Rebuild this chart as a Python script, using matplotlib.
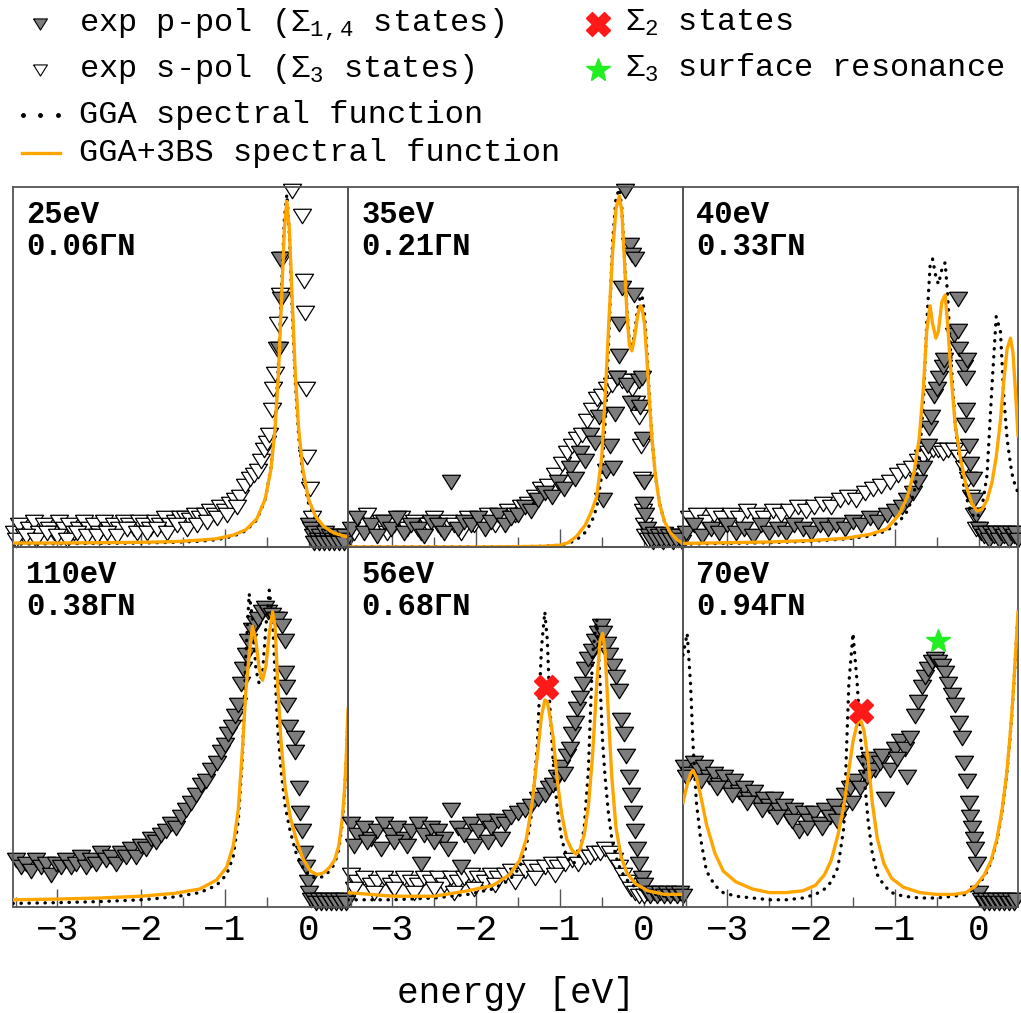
import matplotlib
matplotlib.use("Agg")
import matplotlib.pyplot as plt

plt.rcParams["font.family"] = ["Liberation Mono", "DejaVu Sans"]
plt.rcParams["mathtext.fontset"] = "custom"
plt.rcParams["mathtext.rm"] = "Liberation Mono"
plt.rcParams["mathtext.it"] = "Liberation Mono"
plt.rcParams["mathtext.bf"] = "Liberation Mono:bold"

# ---------------- data ----------------
photon = ["25eV", "35eV", "40eV", "110eV", "56eV", "70eV"]
kpos = ["0.06", "0.21", "0.33", "0.38", "0.68", "0.94"]

# spectral functions: shared energy grid per panel, GGA and GGA+3BS values
c1_x = [-3.53, -3.0, -2.5, -2.0, -1.6, -1.3, -1.1, -0.9, -0.75, -0.62, -0.52, -0.45, -0.40, -0.36,
        -0.32, -0.29, -0.26, -0.23, -0.20, -0.16, -0.12, -0.07, 0.0, 0.08, 0.18, 0.30, 0.47]
bs1_y = [0.011, 0.011, 0.012, 0.013, 0.015, 0.019, 0.023, 0.033, 0.048, 0.078, 0.132, 0.216, 0.331, 0.485,
         0.709, 0.882, 0.96, 0.882, 0.709, 0.485, 0.331, 0.216, 0.132, 0.086, 0.057, 0.039, 0.027]
gga1_y = [0.008, 0.009, 0.010, 0.011, 0.013, 0.016, 0.020, 0.030, 0.045, 0.075, 0.13, 0.22, 0.34, 0.51,
          0.74, 0.91, 0.98, 0.87, 0.68, 0.46, 0.31, 0.20, 0.12, 0.08, 0.05, 0.035, 0.025]

c2_x = [-3.53, -3.0, -2.5, -2.0, -1.5, -1.2, -1.0, -0.9, -0.8, -0.7, -0.62, -0.56, -0.50, -0.45, -0.41,
        -0.37, -0.33, -0.29, -0.26, -0.23, -0.20, -0.17, -0.14, -0.11, -0.07, -0.04, -0.02, 0.01, 0.04,
        0.07, 0.10, 0.14, 0.19, 0.25, 0.32, 0.40, 0.47]
bs2_y = [0.0, 0.0, 0.0, 0.0, 0.001, 0.002, 0.005, 0.012, 0.03, 0.06, 0.10, 0.14, 0.25, 0.46, 0.65,
         0.82, 0.94, 0.975, 0.93, 0.80, 0.65, 0.56, 0.545, 0.58, 0.645, 0.67, 0.665, 0.62, 0.52,
         0.40, 0.30, 0.20, 0.12, 0.07, 0.04, 0.02, 0.01]
gga2_y = [0.0, 0.0, 0.0, 0.0, 0.001, 0.002, 0.005, 0.01, 0.02, 0.04, 0.07, 0.11, 0.20, 0.38, 0.62,
          0.85, 0.97, 0.995, 0.94, 0.81, 0.66, 0.57, 0.55, 0.59, 0.665, 0.695, 0.70, 0.65, 0.54,
          0.41, 0.30, 0.20, 0.12, 0.07, 0.04, 0.02, 0.01]

c3_x = [-3.53, -3.0, -2.5, -2.0, -1.6, -1.3, -1.1, -0.95, -0.85, -0.77, -0.71, -0.66, -0.62, -0.58,
        -0.55, -0.51, -0.48, -0.44, -0.40, -0.37, -0.33, -0.28, -0.22, -0.15, -0.08, -0.02, 0.04, 0.10,
        0.16, 0.21, 0.26, 0.30, 0.34, 0.38, 0.41, 0.44, 0.47]
bs3_y = [0.01, 0.012, 0.014, 0.018, 0.024, 0.035, 0.05, 0.09, 0.14, 0.21, 0.30, 0.44, 0.60, 0.67,
         0.62, 0.58, 0.60, 0.68, 0.70, 0.62, 0.48, 0.34, 0.25, 0.17, 0.12, 0.10, 0.105, 0.13,
         0.18, 0.25, 0.35, 0.46, 0.55, 0.58, 0.54, 0.43, 0.31]
gga3_y = [0.008, 0.01, 0.012, 0.016, 0.022, 0.03, 0.045, 0.07, 0.10, 0.15, 0.24, 0.40, 0.62, 0.78,
          0.80, 0.75, 0.73, 0.77, 0.79, 0.70, 0.52, 0.34, 0.22, 0.14, 0.09, 0.08, 0.11, 0.20,
          0.45, 0.64, 0.60, 0.42, 0.30, 0.23, 0.19, 0.17, 0.15]

c4_x = [-3.53, -3.0, -2.5, -2.0, -1.6, -1.3, -1.1, -0.98, -0.90, -0.84, -0.79, -0.75, -0.71, -0.67,
        -0.63, -0.59, -0.55, -0.51, -0.47, -0.43, -0.40, -0.37, -0.33, -0.28, -0.22, -0.15, -0.07, 0.02,
        0.10, 0.18, 0.25, 0.31, 0.36, 0.40, 0.43, 0.45, 0.47]
bs4_y = [0.02, 0.022, 0.025, 0.03, 0.038, 0.05, 0.075, 0.11, 0.17, 0.27, 0.44, 0.60, 0.70, 0.78,
         0.74, 0.66, 0.63, 0.67, 0.76, 0.82, 0.78, 0.62, 0.46, 0.33, 0.25, 0.19, 0.135, 0.10,
         0.09, 0.095, 0.11, 0.13, 0.17, 0.24, 0.33, 0.42, 0.55]
gga4_y = [0.01, 0.012, 0.015, 0.02, 0.028, 0.04, 0.06, 0.09, 0.14, 0.24, 0.42, 0.70, 0.87, 0.80,
          0.66, 0.62, 0.65, 0.78, 0.88, 0.80, 0.64, 0.50, 0.38, 0.28, 0.21, 0.15, 0.11, 0.085,
          0.08, 0.085, 0.10, 0.12, 0.16, 0.23, 0.32, 0.41, 0.53]

c5_x = [-3.53, -3.0, -2.5, -2.1, -1.8, -1.6, -1.48, -1.40, -1.33, -1.27, -1.22, -1.18, -1.15, -1.12,
        -1.08, -1.03, -0.98, -0.92, -0.86, -0.81, -0.76, -0.71, -0.66, -0.61, -0.56, -0.52, -0.49,
        -0.46, -0.42, -0.38, -0.33, -0.27, -0.20, -0.10, 0.05, 0.25, 0.47]
bs5_y = [0.04, 0.03, 0.03, 0.045, 0.06, 0.09, 0.13, 0.19, 0.29, 0.42, 0.53, 0.575, 0.57, 0.53,
         0.47, 0.35, 0.26, 0.19, 0.16, 0.147, 0.16, 0.20, 0.28, 0.42, 0.62, 0.74, 0.76,
         0.71, 0.53, 0.36, 0.22, 0.14, 0.095, 0.065, 0.045, 0.035, 0.035]
gga5_y = [0.02, 0.02, 0.025, 0.035, 0.05, 0.075, 0.11, 0.17, 0.27, 0.45, 0.72, 0.82, 0.74, 0.56,
          0.40, 0.27, 0.19, 0.14, 0.12, 0.125, 0.15, 0.22, 0.38, 0.70, 0.80, 0.62, 0.46,
          0.36, 0.26, 0.19, 0.14, 0.10, 0.075, 0.055, 0.04, 0.03, 0.03]

c6_x = [-3.53, -3.48, -3.44, -3.41, -3.37, -3.32, -3.25, -3.15, -3.05, -2.9, -2.7, -2.5, -2.3, -2.1,
        -1.95, -1.84, -1.76, -1.68, -1.61, -1.55, -1.50, -1.45, -1.41, -1.37, -1.32, -1.27, -1.21,
        -1.13, -1.04, -0.9, -0.7, -0.5, -0.3, -0.15, -0.03, 0.07, 0.15, 0.22, 0.28, 0.33, 0.37,
        0.40, 0.43, 0.45, 0.47]
bs6_y = [0.29, 0.34, 0.37, 0.38, 0.36, 0.31, 0.23, 0.15, 0.10, 0.07, 0.05, 0.04, 0.04, 0.045,
         0.06, 0.09, 0.13, 0.20, 0.28, 0.38, 0.46, 0.51, 0.52, 0.49, 0.41, 0.29, 0.19,
         0.12, 0.08, 0.055, 0.04, 0.035, 0.035, 0.04, 0.06, 0.09, 0.13, 0.19, 0.27, 0.36, 0.46,
         0.55, 0.66, 0.74, 0.82]
gga6_y = [0.70, 0.76, 0.62, 0.45, 0.29, 0.19, 0.10, 0.06, 0.04, 0.03, 0.025, 0.02, 0.02, 0.025,
          0.035, 0.05, 0.07, 0.11, 0.22, 0.62, 0.76, 0.62, 0.47, 0.37, 0.24, 0.15, 0.09,
          0.06, 0.04, 0.03, 0.025, 0.025, 0.03, 0.035, 0.055, 0.085, 0.125, 0.185, 0.265, 0.355, 0.455,
          0.545, 0.655, 0.735, 0.815]

# experimental points (energy, intensity): p-pol (filled) and s-pol (open)
p1 = [(-0.34, 0.80), (-0.33, 0.69), (-0.35, 0.55),
      (0.00, 0.06), (0.03, 0.05), (0.05, 0.03), (0.08, 0.04), (0.11, 0.02), (0.14, 0.03), (0.17, 0.02),
      (0.20, 0.04), (0.23, 0.02), (0.26, 0.03), (0.29, 0.02), (0.32, 0.03), (0.35, 0.02), (0.38, 0.03),
      (0.41, 0.02), (0.44, 0.03), (0.47, 0.02),
      (0.06, 0.01), (0.12, 0.01), (0.18, 0.01), (0.24, 0.01), (0.30, 0.01), (0.36, 0.01), (0.42, 0.01)]
s1 = [(-3.52, 0.04), (-3.46, 0.06), (-3.40, 0.03), (-3.34, 0.05), (-3.28, 0.07), (-3.22, 0.04),
      (-3.16, 0.06), (-3.10, 0.05), (-3.04, 0.04), (-2.98, 0.07), (-2.92, 0.05), (-2.86, 0.06),
      (-2.80, 0.04), (-2.74, 0.05), (-2.68, 0.07), (-2.62, 0.05), (-2.56, 0.06), (-2.50, 0.04),
      (-2.44, 0.07), (-2.38, 0.05), (-2.32, 0.06), (-2.26, 0.05), (-2.20, 0.07), (-2.14, 0.06),
      (-2.08, 0.05), (-2.02, 0.07), (-1.96, 0.06), (-1.90, 0.05), (-1.84, 0.07), (-1.78, 0.06),
      (-1.72, 0.08), (-1.66, 0.06), (-1.60, 0.07), (-1.54, 0.08),
      (-1.48, 0.08), (-1.42, 0.075), (-1.36, 0.09), (-1.30, 0.08), (-1.24, 0.09), (-1.18, 0.10),
      (-1.12, 0.09), (-1.06, 0.11), (-1.00, 0.10), (-0.94, 0.12), (-0.88, 0.13), (-0.82, 0.14),
      (-0.76, 0.17), (-0.70, 0.19),
      (-0.65, 0.20), (-0.61, 0.21), (-0.57, 0.24), (-0.53, 0.27), (-0.50, 0.29), (-0.47, 0.31),
      (-0.44, 0.38), (-0.42, 0.44), (-0.40, 0.48), (-0.38, 0.55), (-0.36, 0.62), (-0.34, 0.70),
      (-0.32, 0.80),
      (-0.20, 0.99), (-0.08, 0.92), (-0.06, 0.74), (-0.04, 0.65), (-0.03, 0.44), (-0.02, 0.25),
      (0.02, 0.16), (0.04, 0.08),
      (-3.49, 0.02), (-3.37, 0.03), (-3.25, 0.02), (-3.13, 0.04), (-3.01, 0.03), (-2.89, 0.02),
      (-2.77, 0.04), (-2.65, 0.03), (-2.53, 0.03), (-2.41, 0.04), (-2.29, 0.03), (-2.17, 0.05),
      (-2.05, 0.04), (-1.93, 0.04), (-1.81, 0.05), (-1.69, 0.04), (-1.57, 0.06), (-1.45, 0.05),
      (-1.33, 0.06), (-1.21, 0.07), (-1.09, 0.08), (-0.97, 0.09), (-0.85, 0.11)]

p2 = [(-3.50, 0.05), (-3.42, 0.08), (-3.34, 0.04), (-3.26, 0.06), (-3.18, 0.03), (-3.10, 0.07),
      (-3.02, 0.05), (-2.94, 0.08), (-2.86, 0.04), (-2.78, 0.06), (-2.70, 0.05), (-2.62, 0.03),
      (-2.54, 0.07), (-2.46, 0.06), (-2.38, 0.04), (-2.30, 0.18), (-2.22, 0.05), (-2.14, 0.07),
      (-2.06, 0.06), (-1.98, 0.08), (-1.90, 0.05), (-1.82, 0.07), (-1.74, 0.09), (-1.66, 0.06),
      (-1.58, 0.08),
      (-1.50, 0.09), (-1.42, 0.11), (-1.34, 0.10), (-1.26, 0.13), (-1.18, 0.15), (-1.10, 0.14),
      (-1.02, 0.18), (-0.95, 0.16), (-0.88, 0.22), (-0.82, 0.19), (-0.76, 0.26), (-0.70, 0.24),
      (-0.64, 0.31), (-0.58, 0.29), (-0.53, 0.36), (-0.49, 0.13), (-0.45, 0.21), (-0.40, 0.28),
      (-0.36, 0.22), (-0.34, 0.37), (-0.32, 0.47), (-0.30, 0.53), (-0.29, 0.62), (-0.26, 0.72),
      (-0.22, 0.99), (-0.16, 0.84), (-0.14, 0.81), (-0.12, 0.70), (-0.10, 0.80), (-0.20, 0.45),
      (-0.15, 0.40), (-0.05, 0.46), (-0.04, 0.39), (-0.02, 0.47), (-0.01, 0.30), (0.00, 0.18),
      (0.01, 0.12), (0.02, 0.09), (0.04, 0.05),
      (0.06, 0.03), (0.09, 0.02), (0.12, 0.035), (0.15, 0.02), (0.18, 0.03), (0.21, 0.02),
      (0.24, 0.035), (0.27, 0.02), (0.30, 0.03), (0.33, 0.02), (0.36, 0.03), (0.39, 0.02),
      (0.42, 0.03), (0.45, 0.02)]
s2 = [(-3.46, 0.04), (-3.38, 0.06), (-3.30, 0.09), (-3.22, 0.05), (-3.14, 0.07), (-3.06, 0.04),
      (-2.98, 0.06), (-2.90, 0.08), (-2.82, 0.05), (-2.74, 0.07), (-2.66, 0.04), (-2.58, 0.06),
      (-2.50, 0.08), (-2.42, 0.05), (-2.34, 0.07), (-2.26, 0.06), (-2.18, 0.04), (-2.10, 0.08),
      (-2.02, 0.06), (-1.94, 0.07), (-1.86, 0.09), (-1.78, 0.06), (-1.70, 0.08), (-1.62, 0.10),
      (-1.54, 0.09),
      (-1.46, 0.11), (-1.38, 0.12), (-1.30, 0.14), (-1.22, 0.16), (-1.14, 0.17), (-1.06, 0.20),
      (-0.98, 0.23), (-0.92, 0.26), (-0.86, 0.28), (-0.80, 0.30), (-0.74, 0.31), (-0.68, 0.35),
      (-0.62, 0.38), (-0.56, 0.41), (-0.50, 0.42), (-0.44, 0.44), (-0.38, 0.45), (-0.32, 0.47),
      (-0.26, 0.46), (-0.20, 0.46), (-0.14, 0.44), (-0.09, 0.40), (-0.05, 0.36), (-0.03, 0.28),
      (-0.02, 0.19), (-0.01, 0.10), (0.00, 0.06), (0.02, 0.03),
      (0.05, 0.02), (0.11, 0.015), (0.17, 0.02), (0.23, 0.015), (0.29, 0.02), (0.35, 0.015),
      (0.41, 0.02), (0.46, 0.015)]

p3 = [(-3.50, 0.04), (-3.40, 0.06), (-3.30, 0.03), (-3.20, 0.05), (-3.10, 0.04), (-3.00, 0.06),
      (-2.90, 0.04), (-2.80, 0.05), (-2.70, 0.03), (-2.60, 0.06), (-2.50, 0.04), (-2.40, 0.05),
      (-2.30, 0.04), (-2.20, 0.06), (-2.10, 0.05), (-2.00, 0.04), (-1.90, 0.06), (-1.80, 0.05),
      (-1.70, 0.06), (-1.60, 0.05), (-1.50, 0.07), (-1.40, 0.06), (-1.30, 0.08), (-1.20, 0.07),
      (-1.10, 0.09), (-1.00, 0.10),
      (-0.92, 0.11), (-0.85, 0.13), (-0.78, 0.15), (-0.72, 0.18), (-0.66, 0.22), (-0.61, 0.28),
      (-0.59, 0.33), (-0.57, 0.36), (-0.53, 0.42), (-0.50, 0.44), (-0.47, 0.47), (-0.43, 0.50),
      (-0.41, 0.52), (-0.30, 0.59), (-0.25, 0.69), (-0.25, 0.60), (-0.24, 0.55), (-0.18, 0.50),
      (-0.15, 0.47), (-0.14, 0.52), (-0.15, 0.38), (-0.16, 0.34), (-0.12, 0.28), (-0.10, 0.23),
      (-0.07, 0.19), (-0.05, 0.13), (-0.03, 0.09), (0.00, 0.05),
      (0.03, 0.04), (0.06, 0.03), (0.09, 0.04), (0.12, 0.02), (0.15, 0.04), (0.18, 0.03),
      (0.21, 0.04), (0.24, 0.02), (0.27, 0.04), (0.30, 0.03), (0.33, 0.04), (0.36, 0.02),
      (0.39, 0.04), (0.42, 0.03), (0.45, 0.04), (0.47, 0.02)]
s3 = [(-3.46, 0.08), (-3.36, 0.09), (-3.26, 0.07), (-3.16, 0.09), (-3.06, 0.08), (-2.96, 0.09),
      (-2.86, 0.08), (-2.76, 0.10), (-2.66, 0.09), (-2.56, 0.08), (-2.46, 0.10), (-2.36, 0.09),
      (-2.26, 0.10), (-2.16, 0.11), (-2.06, 0.10), (-1.96, 0.11), (-1.86, 0.12), (-1.76, 0.11),
      (-1.66, 0.13), (-1.56, 0.14), (-1.46, 0.13), (-1.36, 0.15), (-1.26, 0.16), (-1.16, 0.17),
      (-1.06, 0.18), (-0.96, 0.20),
      (-0.88, 0.21), (-0.80, 0.22), (-0.73, 0.24), (-0.66, 0.25), (-0.60, 0.26), (-0.54, 0.27),
      (-0.48, 0.27), (-0.42, 0.26), (-0.36, 0.27), (-0.30, 0.27), (-0.24, 0.25), (-0.18, 0.22),
      (-0.13, 0.19), (-0.09, 0.14), (-0.06, 0.09), (-0.03, 0.05)]

p4 = [(-3.50, 0.13), (-3.44, 0.11), (-3.38, 0.12), (-3.32, 0.10), (-3.26, 0.13), (-3.20, 0.11),
      (-3.14, 0.12), (-3.08, 0.09), (-3.02, 0.12), (-2.96, 0.11), (-2.90, 0.13), (-2.84, 0.11),
      (-2.78, 0.12), (-2.72, 0.14), (-2.66, 0.11), (-2.60, 0.13), (-2.54, 0.12), (-2.48, 0.15),
      (-2.42, 0.13), (-2.36, 0.14), (-2.30, 0.12), (-2.24, 0.15), (-2.18, 0.14), (-2.12, 0.16),
      (-2.06, 0.14), (-2.00, 0.17), (-1.94, 0.16), (-1.88, 0.19), (-1.82, 0.18), (-1.76, 0.20),
      (-1.70, 0.21), (-1.64, 0.23), (-1.58, 0.22), (-1.52, 0.25), (-1.46, 0.27), (-1.40, 0.29),
      (-1.34, 0.31), (-1.28, 0.34), (-1.22, 0.35), (-1.16, 0.38), (-1.10, 0.40),
      (-1.05, 0.43), (-1.00, 0.45), (-0.96, 0.48), (-0.92, 0.50), (-0.88, 0.53), (-0.84, 0.56),
      (-0.81, 0.62), (-0.78, 0.66), (-0.75, 0.70), (-0.72, 0.74), (-0.68, 0.77), (-0.64, 0.79),
      (-0.60, 0.80), (-0.56, 0.82), (-0.52, 0.83), (-0.48, 0.82), (-0.44, 0.81), (-0.40, 0.80),
      (-0.36, 0.80), (-0.32, 0.78),
      (-0.28, 0.74), (-0.28, 0.65), (-0.27, 0.61), (-0.26, 0.56), (-0.23, 0.50), (-0.16, 0.47),
      (-0.16, 0.43), (-0.12, 0.33), (-0.10, 0.26), (-0.08, 0.21), (-0.05, 0.15), (-0.03, 0.11),
      (-0.01, 0.07), (0.01, 0.04), (0.03, 0.02),
      (0.06, 0.02), (0.09, 0.01), (0.12, 0.02), (0.15, 0.01), (0.18, 0.02), (0.21, 0.01),
      (0.24, 0.02), (0.27, 0.01), (0.30, 0.02), (0.33, 0.01), (0.36, 0.02), (0.39, 0.01),
      (0.42, 0.02), (0.45, 0.01)]
s4 = []

p5 = [(-3.50, 0.23), (-3.42, 0.20), (-3.34, 0.22), (-3.26, 0.19), (-3.18, 0.21), (-3.10, 0.23),
      (-3.02, 0.20), (-2.94, 0.22), (-2.86, 0.19), (-2.78, 0.21), (-2.70, 0.23), (-2.62, 0.20),
      (-2.54, 0.22), (-2.46, 0.21), (-2.38, 0.19), (-2.30, 0.27), (-2.22, 0.22), (-2.14, 0.20),
      (-2.06, 0.23), (-1.98, 0.21), (-1.90, 0.24), (-1.82, 0.22), (-1.74, 0.24), (-1.66, 0.23),
      (-1.58, 0.25),
      (-3.46, 0.17), (-3.30, 0.18), (-3.14, 0.16), (-2.98, 0.18), (-2.82, 0.17), (-2.66, 0.12),
      (-2.50, 0.18), (-2.34, 0.16), (-2.18, 0.11), (-2.02, 0.17), (-1.86, 0.18), (-1.70, 0.19),
      (-1.50, 0.26), (-1.42, 0.27), (-1.34, 0.28), (-1.26, 0.30), (-1.18, 0.31), (-1.13, 0.33),
      (-1.08, 0.34), (-1.03, 0.36), (-0.99, 0.39), (-0.95, 0.37), (-0.91, 0.42), (-0.88, 0.44),
      (-0.85, 0.48), (-0.82, 0.51), (-0.79, 0.55), (-0.76, 0.58), (-0.73, 0.62), (-0.70, 0.66),
      (-0.66, 0.69), (-0.62, 0.71), (-0.58, 0.74), (-0.55, 0.76), (-0.51, 0.78), (-0.48, 0.76),
      (-0.44, 0.73), (-0.41, 0.70), (-0.37, 0.67), (-0.33, 0.64), (-0.30, 0.60), (-0.27, 0.52),
      (-0.24, 0.48), (-0.21, 0.42), (-0.18, 0.36), (-0.15, 0.31), (-0.13, 0.26), (-0.10, 0.21),
      (-0.08, 0.16), (-0.05, 0.12), (-0.02, 0.08), (0.01, 0.06),
      (0.04, 0.04), (0.08, 0.03), (0.12, 0.04), (0.16, 0.03), (0.20, 0.04), (0.24, 0.03),
      (0.28, 0.04), (0.32, 0.03), (0.36, 0.04), (0.40, 0.03), (0.44, 0.04), (0.47, 0.03)]
s5 = [(-3.50, 0.09), (-3.42, 0.07), (-3.34, 0.08), (-3.26, 0.06), (-3.18, 0.07), (-3.10, 0.08),
      (-3.02, 0.06), (-2.94, 0.07), (-2.86, 0.08), (-2.78, 0.07), (-2.70, 0.06), (-2.62, 0.08),
      (-2.54, 0.07), (-2.46, 0.08), (-2.38, 0.06), (-2.30, 0.08), (-2.22, 0.07), (-2.14, 0.08),
      (-2.06, 0.09), (-1.98, 0.08), (-1.90, 0.07), (-1.82, 0.09), (-1.74, 0.08), (-1.66, 0.09),
      (-1.58, 0.10), (-1.50, 0.09), (-1.42, 0.10), (-1.34, 0.11), (-1.26, 0.10), (-1.18, 0.11),
      (-1.10, 0.12), (-1.02, 0.11), (-0.94, 0.12), (-0.86, 0.13), (-0.78, 0.12), (-0.70, 0.14),
      (-0.64, 0.14), (-0.58, 0.15), (-0.52, 0.15), (-0.46, 0.16), (-0.40, 0.15), (-0.35, 0.13),
      (-0.30, 0.11), (-0.25, 0.09), (-0.20, 0.07), (-0.15, 0.05), (-0.10, 0.04), (-0.05, 0.03),
      (0.00, 0.03),
      (-3.46, 0.05), (-3.22, 0.04), (-2.98, 0.05), (-2.74, 0.04), (-2.50, 0.05), (-2.26, 0.04),
      (-2.02, 0.05), (-1.78, 0.06), (-1.54, 0.07), (-1.30, 0.08), (-1.06, 0.09)]

p6 = [(-3.52, 0.39), (-3.46, 0.37), (-3.40, 0.40), (-3.34, 0.38), (-3.28, 0.39), (-3.22, 0.36),
      (-3.16, 0.37), (-3.10, 0.34), (-3.04, 0.36), (-2.98, 0.33), (-2.92, 0.35), (-2.86, 0.32),
      (-2.80, 0.33), (-2.74, 0.30), (-2.68, 0.32), (-2.62, 0.29), (-2.56, 0.30), (-2.50, 0.28),
      (-2.44, 0.30), (-2.38, 0.27), (-2.32, 0.28), (-2.26, 0.25), (-2.20, 0.27), (-2.14, 0.21),
      (-2.08, 0.26), (-2.02, 0.24), (-1.96, 0.26), (-1.90, 0.23), (-1.84, 0.27), (-1.78, 0.25),
      (-1.72, 0.28), (-1.66, 0.26), (-1.60, 0.31), (-1.54, 0.33), (-1.48, 0.35), (-1.42, 0.33),
      (-1.36, 0.40), (-1.30, 0.41), (-1.24, 0.38), (-1.18, 0.40), (-1.12, 0.30), (-1.06, 0.38),
      (-1.00, 0.44), (-0.94, 0.46), (-0.88, 0.44), (-0.82, 0.47), (-0.76, 0.53),
      (-0.72, 0.57), (-0.68, 0.61), (-0.64, 0.64), (-0.60, 0.66), (-0.56, 0.68), (-0.52, 0.69),
      (-0.48, 0.68), (-0.44, 0.67), (-0.40, 0.65), (-0.36, 0.62), (-0.32, 0.59), (-0.28, 0.56),
      (-0.24, 0.51), (-0.20, 0.47), (-0.17, 0.40), (-0.14, 0.35), (-0.12, 0.29), (-0.10, 0.25),
      (-0.08, 0.22), (-0.06, 0.19), (-0.04, 0.16), (-0.02, 0.12),
      (-3.49, 0.36), (-3.31, 0.35), (-3.13, 0.33), (-2.95, 0.31), (-2.77, 0.29), (-2.59, 0.27),
      (-2.41, 0.25), (-2.23, 0.24), (-2.05, 0.22), (-1.87, 0.22), (-1.69, 0.24), (-1.51, 0.29),
      (-1.33, 0.36), (-1.15, 0.42), (-0.97, 0.41), (-0.85, 0.36),
      (0.00, 0.04), (0.03, 0.02), (0.06, 0.01), (0.09, 0.02), (0.12, 0.01), (0.15, 0.02),
      (0.18, 0.01), (0.21, 0.02), (0.24, 0.01), (0.27, 0.02), (0.30, 0.01), (0.33, 0.02),
      (0.36, 0.01), (0.39, 0.02), (0.42, 0.01), (0.45, 0.02)]
s6 = []

# marked states
sigma2 = {4: (-1.16, 0.61), 5: (-1.41, 0.545)}
sigma3_surf = {5: (-0.48, 0.74)}

panels = [(c1_x, gga1_y, bs1_y, p1, s1), (c2_x, gga2_y, bs2_y, p2, s2), (c3_x, gga3_y, bs3_y, p3, s3),
          (c4_x, gga4_y, bs4_y, p4, s4), (c5_x, gga5_y, bs5_y, p5, s5), (c6_x, gga6_y, bs6_y, p6, s6)]

# ---------------- drawing ----------------
ORANGE = "#FFA500"
GRAY = "#7d7d7d"
FRAME = "#555555"
tri = [(-1, 0.8), (1, 0.8), (0, -0.8), (-1, 0.8)]
dots = (0, (0.1, 2.3))

fig = plt.figure(figsize=(10.21, 10.13), dpi=100)
gs = fig.add_gridspec(2, 3, left=13 / 1021, right=1018 / 1021, top=1 - 187 / 1013,
                      bottom=1 - 907 / 1013, wspace=0, hspace=0)

for i, (cx, gga, bs, pp, sp) in enumerate(panels):
    ax = fig.add_subplot(gs[i // 3, i % 3])
    ax.patch.set_alpha(0)
    if sp:
        ax.plot([q[0] for q in sp], [q[1] for q in sp], ls="none", marker=tri, ms=13,
                mfc="white", mec="k", mew=0.9, clip_on=False, zorder=2)
    ax.plot([q[0] for q in pp], [q[1] for q in pp], ls="none", marker=tri, ms=13,
            mfc=GRAY, mec="k", mew=0.9, clip_on=False, zorder=2)
    ax.plot(cx, gga, color="k", lw=2.4, ls=dots, dash_capstyle="round", zorder=3)
    ax.plot(cx, bs, color=ORANGE, lw=2.4, zorder=4)
    if i in sigma2:
        ax.plot(*sigma2[i], ls="none", marker="X", ms=17, mfc="#ff1a1a", mec="#ff1a1a", zorder=5)
    if i in sigma3_surf:
        ax.plot(*sigma3_surf[i], ls="none", marker="*", ms=18, mfc="#22ee22", mec="#22ee22", zorder=5)

    ax.text(0.04, 0.965, photon[i] + "\n" + kpos[i] + "\u0393N", transform=ax.transAxes,
            ha="left", va="top", fontsize=22, fontweight="bold", linespacing=1.1)

    ax.set_xlim(-3.53, 0.47)
    ax.set_ylim(0, 1)
    ax.set_yticks([])
    ax.set_xticks([-3, -2, -1, 0])
    ax.set_xticks([-3.5, -2.5, -1.5, -0.5], minor=True)
    ax.tick_params(axis="x", which="major", direction="in", length=13, width=1.0, color=FRAME,
                   labelsize=26, pad=4, labelbottom=(i >= 3))
    ax.tick_params(axis="x", which="minor", direction="in", length=7, width=1.0, color=FRAME)
    for s in ax.spines.values():
        s.set_color(FRAME)
        s.set_linewidth(1.3)

fig.text(0.505, 1 - 993 / 1013, "energy [eV]", ha="center", va="center", fontsize=26)

# legend drawn on an overlay in pixel coordinates
la = fig.add_axes([0, 0, 1, 1], zorder=10)
la.set_xlim(0, 1021)
la.set_ylim(1013, 0)
la.axis("off")
la.patch.set_alpha(0)
la.plot([40], [24], ls="none", marker=tri, ms=10, mfc=GRAY, mec="k", mew=0.8)
la.plot([40], [70], ls="none", marker=tri, ms=10, mfc="white", mec="k", mew=0.8)
la.plot([23, 40, 58], [115, 115, 115], ls="none", marker="o", ms=2.5, color="k")
la.plot([22, 60], [153, 153], color=ORANGE, lw=2.4)
la.plot([598], [24], ls="none", marker="X", ms=17, mfc="#ff1a1a", mec="#ff1a1a")
la.plot([598], [70], ls="none", marker="*", ms=18, mfc="#22ee22", mec="#22ee22")
leg_rows = [(79, 31, r"exp p-pol ($\Sigma_{1,4}$ states)"),
            (79, 77, r"exp s-pol ($\Sigma_{3}$ states)"),
            (79, 123, "GGA spectral function"),
            (79, 161, "GGA+3BS spectral function"),
            (625, 31, r"$\Sigma_{2}$ states"),
            (625, 77, r"$\Sigma_{3}$ surface resonance")]
for x, y, t in leg_rows:
    la.text(x, y, t, ha="left", va="baseline", fontsize=23)

fig.savefig("out.png", dpi=100)
